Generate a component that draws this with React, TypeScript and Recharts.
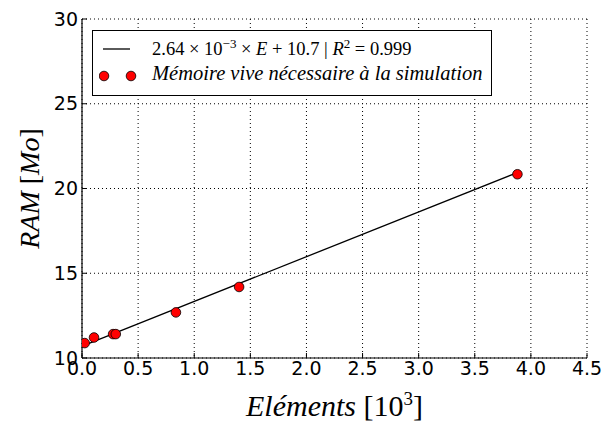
import React from 'react';
import {
  ScatterChart, Scatter, XAxis, YAxis, CartesianGrid, Legend, Label,
} from 'recharts';

const elements = [0.024, 0.107, 0.277, 0.301, 0.837, 1.4, 3.88];
const ram = [10.88, 11.21, 11.41, 11.41, 12.69, 14.19, 20.84];
const fitElements = [0.024, 3.88];
const fitRam = [10.76, 20.94];
const xTicks = [0, 0.5, 1.0, 1.5, 2.0, 2.5, 3.0, 3.5, 4.0, 4.5];
const yTicks = [10, 15, 20, 25, 30];

const points = elements.map((x, i) => ({ x, y: ram[i] }));
const fit = fitElements.map((x, i) => ({ x, y: fitRam[i] }));

const tickFont = { fontFamily: 'DejaVu Sans', fontSize: 19, fill: '#000' };
const mathFont = 'Liberation Serif';

const renderLegend = () => (
  <div
    style={{
      border: '1.5px solid #000',
      background: '#fff',
      width: 400,
      height: 66,
      boxSizing: 'border-box',
      fontFamily: mathFont,
      color: '#000',
      position: 'relative',
    }}
  >
    <svg width={40} height={60} style={{ position: 'absolute', left: 6, top: 2 }}>
      <line x1={4} x2={31} y1={16} y2={16} stroke="#000" strokeWidth={1.3} />
      <circle cx={5} cy={43} r={4.8} fill="#ff0000" stroke="#000" strokeWidth={0.8} />
      <circle cx={32} cy={43} r={4.8} fill="#ff0000" stroke="#000" strokeWidth={0.8} />
    </svg>
    <div style={{ position: 'absolute', left: 59, top: 5, whiteSpace: 'nowrap', fontSize: 18.5 }}>
      2.64 × 10<sup style={{ fontSize: 13 }}>−3</sup> × <i>E</i> + 10.7 | <i>R</i>
      <sup style={{ fontSize: 13 }}>2</sup> = 0.999
    </div>
    <div style={{ position: 'absolute', left: 59, top: 31, whiteSpace: 'nowrap', fontStyle: 'italic', fontSize: 20.5 }}>
      Mémoire vive nécessaire à la simulation
    </div>
  </div>
);

const YLabel = (props: any) => {
  const vb = props.viewBox;
  const cx = vb.x + 39;
  const cy = vb.y + vb.height / 2;
  return (
    <text
      x={cx}
      y={cy}
      transform={`rotate(-90, ${cx}, ${cy})`}
      textAnchor="middle"
      fontFamily={mathFont}
      fontSize={28}
      fill="#000"
    >
      <tspan fontStyle="italic">RAM</tspan>
      <tspan> [</tspan>
      <tspan fontStyle="italic">Mo</tspan>
      <tspan>]</tspan>
    </text>
  );
};

const XLabel = (props: any) => {
  const vb = props.viewBox;
  const cx = vb.x + vb.width / 2;
  const cy = vb.y + 58;
  return (
    <text x={cx} y={cy} textAnchor="middle" fontFamily={mathFont} fontSize={30} fill="#000">
      <tspan fontStyle="italic">Eléments</tspan>
      <tspan> [10</tspan>
      <tspan fontSize={19} dy={-11}>3</tspan>
      <tspan dy={11}>]</tspan>
    </text>
  );
};

export default function App() {
  return (
    <div style={{ position: 'absolute', left: 0, top: 0, width: 607, height: 426, background: '#fff' }}>
      <ScatterChart
        width={607}
        height={426}
        margin={{ top: 19, right: 20, bottom: 0, left: 0 }}
        style={{ background: '#fff' }}
      >
        <CartesianGrid stroke="#000" strokeDasharray="1 3" strokeWidth={1} />
        <XAxis
          type="number"
          dataKey="x"
          domain={[0, 4.5]}
          ticks={xTicks}
          tickFormatter={(v: number) => v.toFixed(1)}
          tick={tickFont}
          tickSize={-5}
          tickMargin={9}
          height={68}
          axisLine={{ stroke: '#000', strokeWidth: 1.2 }}
          tickLine={{ stroke: '#000' }}
          allowDataOverflow
        >
          <Label content={<XLabel />} />
        </XAxis>
        <XAxis
          xAxisId="top"
          orientation="top"
          type="number"
          dataKey="x"
          domain={[0, 4.5]}
          ticks={xTicks}
          tick={false}
          tickSize={-5}
          height={0}
          axisLine={{ stroke: '#000', strokeWidth: 1.2 }}
          tickLine={{ stroke: '#000' }}
          allowDataOverflow
        />
        <YAxis
          type="number"
          dataKey="y"
          domain={[10, 30]}
          ticks={yTicks}
          tick={tickFont}
          tickSize={-5}
          tickMargin={9}
          width={82}
          axisLine={{ stroke: '#000', strokeWidth: 1.2 }}
          tickLine={{ stroke: '#000' }}
          allowDataOverflow
        >
          <Label content={<YLabel />} />
        </YAxis>
        <YAxis
          yAxisId="right"
          orientation="right"
          type="number"
          dataKey="y"
          domain={[10, 30]}
          ticks={yTicks}
          tick={false}
          tickSize={-5}
          width={0}
          axisLine={{ stroke: '#000', strokeWidth: 1.2 }}
          tickLine={{ stroke: '#000' }}
          allowDataOverflow
        />
        <Legend
          content={renderLegend}
          layout="horizontal"
          verticalAlign="middle"
          align="center"
          wrapperStyle={{ left: 92, top: 30, width: 400 }}
        />
        <Scatter
          data={fit}
          line={{ stroke: '#000', strokeWidth: 1.3 }}
          shape={() => <g />}
          isAnimationActive={false}
        />
        <Scatter
          data={points}
          fill="#ff0000"
          stroke="#000"
          strokeWidth={0.8}
          shape={(p: any) => <circle cx={p.cx} cy={p.cy} r={4.8} fill="#ff0000" stroke="#000" strokeWidth={0.8} />}
          isAnimationActive={false}
        />
      </ScatterChart>
    </div>
  );
}
